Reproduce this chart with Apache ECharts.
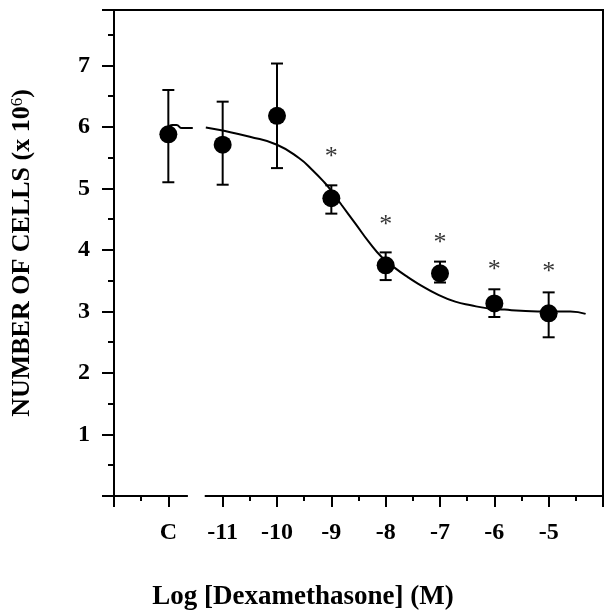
<!DOCTYPE html>
<html>
<head>
<meta charset="utf-8">
<script src="https://cdn.jsdelivr.net/npm/echarts@6/dist/echarts.min.js"></script>
<style>
  html, body { margin: 0; padding: 0; background: #fff; }
  #chart { width: 606px; height: 612px; }
</style>
</head>
<body>
<div id="chart"></div>
<script>
// Dose positions (log M); -12 stands for the control "C"
const doseX = [-12, -11, -10, -9, -8, -7, -6, -5];
const cellMean = [5.88, 5.71, 6.18, 4.84, 3.75, 3.62, 3.13, 2.97];
const errLow = [5.10, 5.06, 5.33, 4.59, 3.51, 3.47, 2.91, 2.58];
const errHigh = [6.60, 6.41, 7.03, 5.05, 3.96, 3.81, 3.36, 3.31];

// significance stars
const starX = [-9, -8, -7, -6, -5];
const starY = [5.58, 4.46, 4.18, 3.73, 3.70];

// fitted curve
const controlFitX = [-12, -11.93, -11.85, -11.75, -11.55];
const controlFitY = [6.00, 6.03, 6.03, 5.98, 5.98];
const fitX = [-11.31, -11.0, -10.5, -10.0, -9.59, -9.35, -9.13, -8.99, -8.81, -8.55, -8.31,
  -8.07, -7.82, -7.58, -7.40, -7.03, -6.72, -6.43, -6.12, -5.81, -5.51, -5.2, -4.89, -4.6, -4.32];
const fitY = [5.99, 5.94, 5.84, 5.71, 5.49, 5.30, 5.10, 4.95, 4.73, 4.42, 4.13,
  3.88, 3.70, 3.55, 3.45, 3.27, 3.16, 3.10, 3.05, 3.03, 3.01, 3.00, 3.00, 3.00, 2.96];

// axis break on the x axis between C and -11
const breakX = [-11.64, -11.33];

const labelFont = 'Liberation Serif';

const chart = echarts.init(document.getElementById('chart'));

chart.setOption({
  animation: false,
  backgroundColor: '#fff',
  title: {
    text: 'Log [Dexamethasone] (M)',
    left: 'center',
    top: 579,
    textStyle: { fontFamily: labelFont, fontWeight: 'bold', fontSize: 27, color: '#000' }
  },
  grid: {
    left: 114, right: 2, top: 10, bottom: 116,
    show: true, borderColor: '#000', borderWidth: 2
  },
  xAxis: {
    type: 'value',
    min: -13, max: -4, interval: 1,
    axisLine: { lineStyle: { color: '#000', width: 2 } },
    axisTick: { inside: false, length: 11, lineStyle: { color: '#000', width: 2 } },
    minorTick: { show: true, splitNumber: 2, length: 5, lineStyle: { color: '#000', width: 2 } },
    splitLine: { show: false },
    axisLabel: {
      margin: 25,
      fontFamily: labelFont, fontWeight: 'bold', fontSize: 24, color: '#000',
      formatter: v => v === -12 ? 'C' : (v === -13 || v === -4 ? '' : String(v))
    }
  },
  yAxis: {
    type: 'value',
    min: 0, max: 7.9, interval: 1,
    name: '{a|NUMBER OF CELLS (x 10}{s|6}{a|)}',
    nameLocation: 'middle',
    nameGap: 78,
    nameTextStyle: {
      rich: {
        a: { fontFamily: labelFont, fontWeight: 'bold', fontSize: 26, color: '#000' },
        s: { fontFamily: labelFont, fontSize: 17, color: '#000', verticalAlign: 'top', padding: [0, 0, 10, 0] }
      }
    },
    axisLine: { lineStyle: { color: '#000', width: 2 } },
    axisTick: { inside: false, length: 12, lineStyle: { color: '#000', width: 2 } },
    minorTick: { show: true, splitNumber: 2, length: 6, lineStyle: { color: '#000', width: 2 } },
    splitLine: { show: false },
    axisLabel: {
      margin: 24,
      showMaxLabel: false,
      fontFamily: labelFont, fontWeight: 'bold', fontSize: 24, color: '#000',
      formatter: v => (v === 0 || v % 1 !== 0) ? '' : String(v)
    }
  },
  series: [
    {
      type: 'line',
      data: controlFitX.map((x, i) => [x, controlFitY[i]]),
      smooth: 0.5, showSymbol: false,
      lineStyle: { color: '#000', width: 2 }
    },
    {
      type: 'line',
      data: fitX.map((x, i) => [x, fitY[i]]),
      smooth: 0.5, showSymbol: false,
      lineStyle: { color: '#000', width: 2 }
    },
    {
      type: 'custom',
      data: doseX.map((x, i) => [x, errLow[i], errHigh[i]]),
      renderItem: (params, api) => {
        const lo = api.coord([api.value(0), api.value(1)]);
        const hi = api.coord([api.value(0), api.value(2)]);
        const w = 6;
        const style = { stroke: '#000', lineWidth: 2 };
        return {
          type: 'group',
          children: [
            { type: 'line', shape: { x1: lo[0], y1: lo[1], x2: hi[0], y2: hi[1] }, style },
            { type: 'line', shape: { x1: lo[0] - w, y1: lo[1], x2: lo[0] + w, y2: lo[1] }, style },
            { type: 'line', shape: { x1: hi[0] - w, y1: hi[1], x2: hi[0] + w, y2: hi[1] }, style }
          ]
        };
      },
      z: 3
    },
    {
      type: 'scatter',
      data: doseX.map((x, i) => [x, cellMean[i]]),
      symbol: 'circle', symbolSize: 18,
      itemStyle: { color: '#000', opacity: 1 },
      z: 4
    },
    {
      type: 'scatter',
      data: starX.map((x, i) => [x, starY[i]]),
      symbolSize: 0,
      label: {
        show: true, position: 'inside', formatter: '*',
        fontFamily: labelFont, fontSize: 26, color: '#000', offset: [0, 4]
      },
      z: 5
    }
  ]
});

// white patch to break the x axis line between C and -11
const p0 = chart.convertToPixel({ gridIndex: 0 }, [breakX[0], 0]);
const p1 = chart.convertToPixel({ gridIndex: 0 }, [breakX[1], 0]);
chart.setOption({
  graphic: [{
    type: 'rect',
    shape: { x: p0[0], y: p0[1] - 3, width: p1[0] - p0[0], height: 16 },
    style: { fill: '#fff' },
    z: 100
  }]
});
</script>
</body>
</html>
